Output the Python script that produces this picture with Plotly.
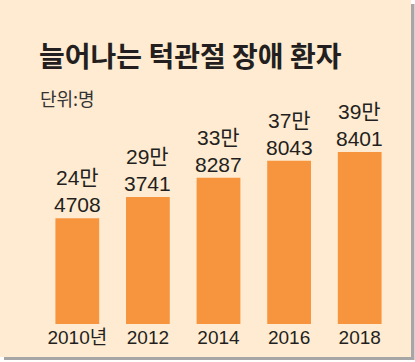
import plotly.graph_objects as go

years = ["2010년", "2012", "2014", "2016", "2018"]
patients = [244708, 293741, 338287, 378043, 398401]
label_top = ["24만", "29만", "33만", "37만", "39만"]
label_bottom = ["4708", "3741", "8287", "8043", "8401"]

W, H = 415, 362
L, R, T, B = 42, 20, 100, 38
PW, PH = W - L - R, H - T - B

def px_x(x):
    return (x - L) / PW

def px_y(y):
    return (H - B - y) / PH

FONT = "Liberation Sans, Noto Sans CJK KR, sans-serif"
CREAM = "#FFEBD1"
ORANGE = "#F7953F"
TEXT = "#231F20"

fig = go.Figure()
fig.add_trace(go.Bar(
    x=list(range(len(years))), y=patients,
    marker=dict(color=ORANGE, line=dict(width=0)),
    hoverinfo="skip",
))

annotations = []
for i, (v, a, b) in enumerate(zip(patients, label_top, label_bottom)):
    annotations.append(dict(
        x=i, y=v, xref="x", yref="y", text=a + "<br>" + b,
        showarrow=False, yanchor="bottom", yshift=0,
        font=dict(family=FONT, size=21, color=TEXT),
    ))

annotations.append(dict(
    x=px_x(37), y=px_y(33), xref="paper", yref="paper",
    xanchor="left", yanchor="top", showarrow=False,
    text="<b>늘어나는 턱관절 장애 환자</b>",
    font=dict(family="Noto Sans CJK KR, sans-serif", size=28, color=TEXT),
))
annotations.append(dict(
    x=px_x(38), y=px_y(83), xref="paper", yref="paper",
    xanchor="left", yanchor="top", showarrow=False,
    text="단위:명",
    font=dict(family="Noto Sans CJK KR, sans-serif", size=18, color="#333333"),
))

shapes = [
    dict(type="rect", xref="paper", yref="paper", layer="below",
         x0=px_x(4), x1=px_x(414.5), y0=px_y(4), y1=px_y(360),
         fillcolor="#A6A6A6", line=dict(width=0)),
    dict(type="rect", xref="paper", yref="paper", layer="below",
         x0=px_x(0), x1=px_x(411), y0=px_y(0), y1=px_y(357),
         fillcolor=CREAM, line=dict(width=0)),
]

fig.update_layout(
    width=W, height=H,
    margin=dict(l=L, r=R, t=T, b=B),
    paper_bgcolor="#FFFFFF",
    plot_bgcolor="rgba(0,0,0,0)",
    showlegend=False,
    bargap=0.38,
    annotations=annotations,
    shapes=shapes,
    xaxis=dict(
        type="linear", range=[-0.5, 4.5], showgrid=False, zeroline=False,
        showline=False, ticks="", tickmode="array",
        tickvals=list(range(len(years))), ticktext=years,
        tickfont=dict(family=FONT, size=19, color=TEXT),
        fixedrange=True, automargin=False,
    ),
    yaxis=dict(
        range=[0, 518500], showgrid=False, zeroline=False, showline=False,
        showticklabels=False, ticks="", fixedrange=True,
    ),
)

fig.write_html(
    "out.html",
    config={"displayModeBar": False},
    post_script="document.body.style.margin='0';document.body.style.padding='0';",
)
